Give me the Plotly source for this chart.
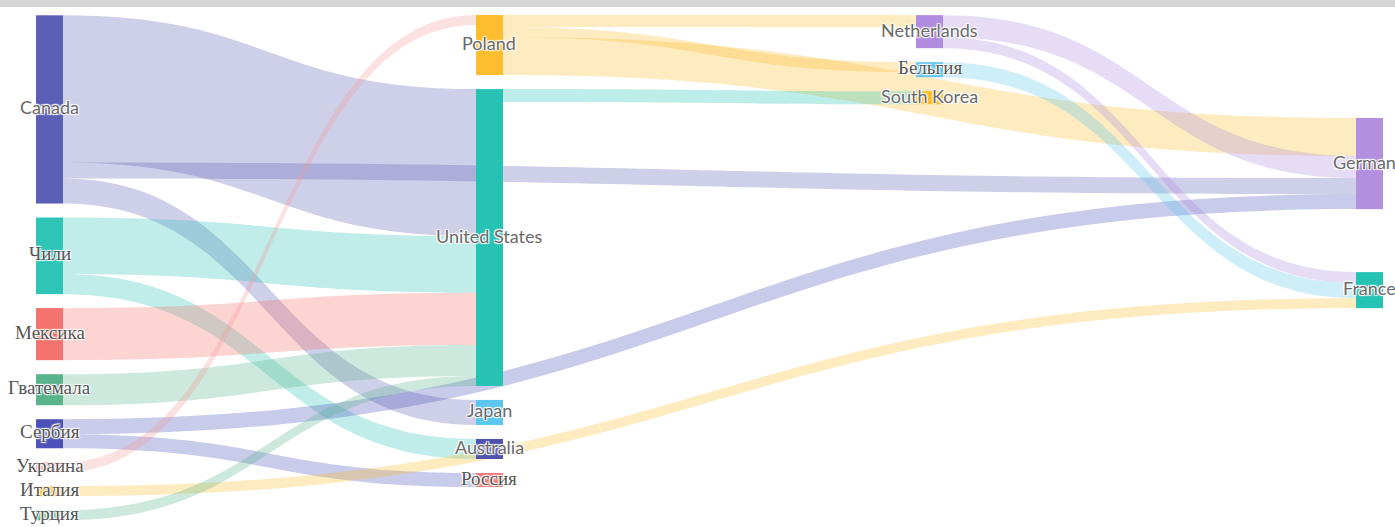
import plotly.graph_objects as go

# ---------------- data ----------------
node_names = ["Canada", "Чили", "Мексика", "Гватемала", "Сербия", "Украина", "Италия", "Турция",
              "Poland", "United States", "Japan", "Australia", "Россия",
              "Netherlands", "Бельгия", "South Korea",
              "Germany", "France"]

link_source = ["Canada", "Canada", "Canada",
               "Чили", "Чили",
               "Мексика", "Гватемала",
               "Сербия", "Сербия",
               "Украина", "Италия", "Турция",
               "Poland", "Poland", "Poland",
               "United States",
               "Netherlands", "Netherlands",
               "Бельгия"]
link_target = ["United States", "Germany", "Japan",
               "United States", "Australia",
               "United States", "United States",
               "Germany", "Россия",
               "Poland", "France", "United States",
               "Netherlands", "Бельгия", "Germany",
               "South Korea",
               "Germany", "France",
               "France"]
link_value = [147, 16, 25,
              56.5, 20,
              52, 31,
              15, 14,
              10, 10, 10,
              12, 10, 38,
              13,
              22, 11,
              15]

# ---------------- styles ----------------
node_colors = {
    "Canada": "#5c5fb6", "Чили": "#2ec4b6", "Мексика": "#f4736e", "Гватемала": "#59b48c",
    "Сербия": "#4d52b8", "Украина": "#f49a9a", "Италия": "#fdbd2e", "Турция": "#59b48c",
    "Poland": "#fdbd2e", "United States": "#26c2b4", "Japan": "#5bc7ee", "Australia": "#4f53b0",
    "Россия": "#f27a7a", "Netherlands": "#b18be0", "Бельгия": "#5ec8f0", "South Korea": "#fdbd2e",
    "Germany": "#b48fdf", "France": "#26c2b4",
}
# extra vertical gap (px) placed above a node in its column
extra_gap = {"Germany": 103, "France": 49}
# tiny per-column start nudges (px) so that link stacking order at shared targets is stable
col_start = [0.3, 0.0, 0.15, 0.0]

FIG_W, FIG_H = 1395, 527
M_L, M_R, M_T, M_B = 36, 12, 15, 7
W = FIG_W - M_L - M_R
H = FIG_H - M_T - M_B
THICK = 27
PAD = 14
LINK_ALPHA = 0.3


def rgba(hex_color, a):
    h = hex_color.lstrip("#")
    r, g, b = int(h[0:2], 16), int(h[2:4], 16), int(h[4:6], 16)
    return f"rgba({r},{g},{b},{a})"


idx = {n: i for i, n in enumerate(node_names)}
src = [idx[s] for s in link_source]
tgt = [idx[t] for t in link_target]

# node values (max of in / out flow)
inflow = [0.0] * len(node_names)
outflow = [0.0] * len(node_names)
for s, t, v in zip(src, tgt, link_value):
    outflow[s] += v
    inflow[t] += v
node_val = [max(a, b) for a, b in zip(inflow, outflow)]

# column = longest path from a source (left alignment)
depth = [0] * len(node_names)
for _ in range(len(node_names)):
    for s, t in zip(src, tgt):
        depth[t] = max(depth[t], depth[s] + 1)
ncol = max(depth) + 1
columns = [[i for i in range(len(node_names)) if depth[i] == c] for c in range(ncol)]

ky = min((H - (len(c) - 1) * PAD) / sum(node_val[i] for i in c) for c in columns)

node_x, node_y = [0.0] * len(node_names), [0.0] * len(node_names)
for c, members in enumerate(columns):
    xc = (THICK / 2 + c * (W - THICK) / (ncol - 1)) / W
    y = col_start[c]
    for k, i in enumerate(members):
        if k > 0:
            y += PAD
        y += extra_gap.get(node_names[i], 0)
        h = node_val[i] * ky
        node_x[i] = xc
        node_y[i] = (y + h / 2) / H
        y += h

fig = go.Figure(go.Sankey(
    arrangement="fixed",
    orientation="h",
    domain=dict(x=[0, 1], y=[0, 1]),
    node=dict(
        label=[""] * len(node_names),
        customdata=node_names,
        hovertemplate="%{customdata}: %{value}<extra></extra>",
        color=[node_colors[n] for n in node_names],
        line=dict(width=0),
        thickness=THICK,
        pad=PAD,
        align="left",
        x=node_x,
        y=node_y,
    ),
    link=dict(
        source=src,
        target=tgt,
        value=link_value,
        color=[rgba(node_colors[s], LINK_ALPHA) for s in link_source],
        customdata=[f"{s} → {t}" for s, t in zip(link_source, link_target)],
        hovertemplate="%{customdata}: %{value}<extra></extra>",
    ),
))

halo = "1px 1px 1px #fff, -1px -1px 1px #fff, 1px -1px 1px #fff, -1px 1px 1px #fff"
for i, name in enumerate(node_names):
    cyr = any("\u0400" <= ch <= "\u04FF" for ch in name)
    fig.add_annotation(
        x=node_x[i], y=1 - node_y[i], xref="paper", yref="paper",
        text=name, showarrow=False, xanchor="center", yanchor="middle", yshift=2,
        font=dict(family="Liberation Serif" if cyr else "Lato",
                  size=19 if cyr else 18,
                  color="#555555" if cyr else "#6a6a6a",
                  shadow=halo),
    )

# thin grey strip across the top of the page
fig.add_shape(type="rect", xref="paper", yref="paper",
              x0=-M_L / W, x1=1 + M_R / W, y0=1 + (M_T - 7) / H, y1=1 + M_T / H,
              fillcolor="#d6d6d6", line=dict(width=0), layer="above")

fig.update_layout(
    width=FIG_W, height=FIG_H,
    margin=dict(l=M_L, r=M_R, t=M_T, b=M_B),
    paper_bgcolor="white", plot_bgcolor="white",
    showlegend=False,
)

fig.write_html("out.html",
               config={"displayModeBar": False},
               post_script="document.body.style.margin='0px';document.body.style.overflow='hidden';")
